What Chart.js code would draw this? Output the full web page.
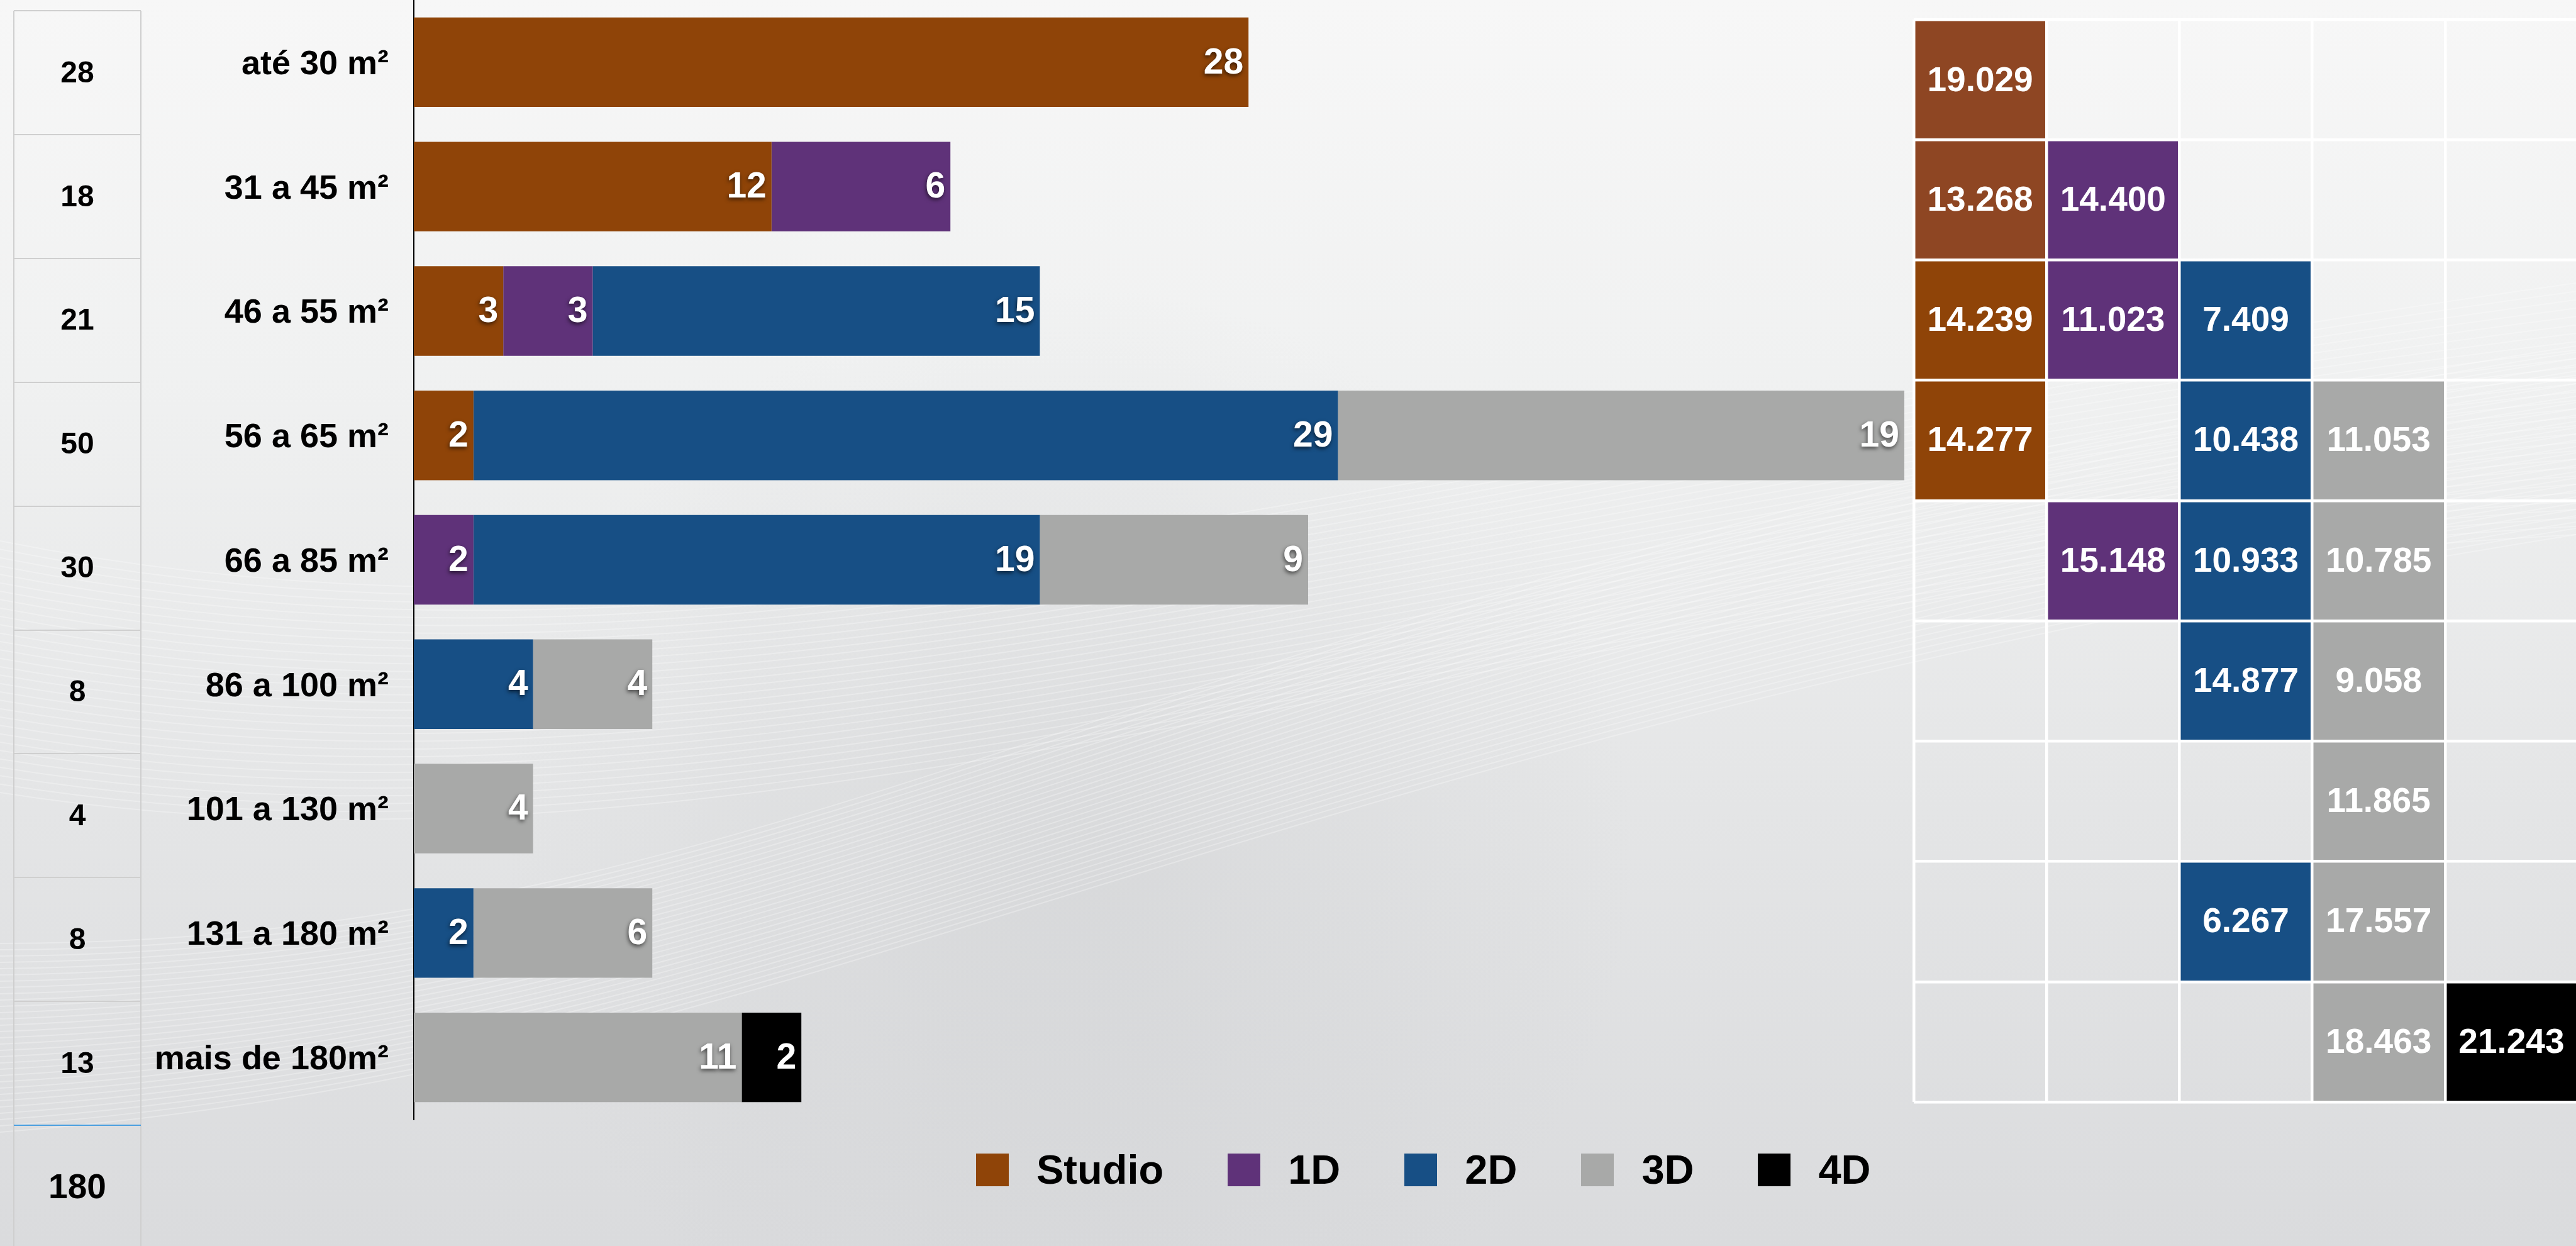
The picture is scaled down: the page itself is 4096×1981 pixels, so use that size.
<!DOCTYPE html>
<html lang="pt-BR">
<head>
<meta charset="utf-8">
<title>Unidades por metragem</title>
<script src="https://cdn.jsdelivr.net/npm/chart.js@4.4.1/dist/chart.umd.min.js"></script>
<style>
    html, body {
        margin: 0;
        padding: 0;
        width: 4096px;
        height: 1981px;
        overflow: hidden;
    }
    body {
        position: relative;
        font-family: "Liberation Sans", Arial, Helvetica, sans-serif;
    }
    canvas {
        position: absolute;
        top: 0;
    }
    #backdrop, #units, #totals { left: 0; }
    #prices { left: 3000px; }
    #legend {
        position: absolute;
        left: 1552px;
        top: 1834px;
        height: 52px;
        display: flex;
        align-items: center;
    }
    #legend .item {
        display: flex;
        align-items: center;
        margin-right: 102px;
    }
    #legend .swatch {
        width: 52px;
        height: 52px;
        margin-right: 44px;
    }
    #legend .name {
        font-weight: bold;
        font-size: 65px;
        line-height: 52px;
        color: #000;
    }
</style>
</head>
<body>
<canvas id="backdrop" width="4096" height="1981"></canvas>
<canvas id="totals" width="240" height="2000"></canvas>
<canvas id="units" width="4096" height="1981"></canvas>
<canvas id="prices" width="1110" height="1981"></canvas>
<div id="legend"></div>

<script>
const categories = ['até 30 m²', '31 a 45 m²', '46 a 55 m²', '56 a 65 m²', '66 a 85 m²',
    '86 a 100 m²', '101 a 130 m²', '131 a 180 m²', 'mais de 180m²'];
const typeNames = ['Studio', '1D', '2D', '3D', '4D'];
const typeColors = ['#8f4408', '#5f3279', '#174f85', '#a8a9a8', '#000000'];

// units per size range and type
const unitsStudio = [28, 12, 3, 2, 0, 0, 0, 0, 0];
const units1D = [0, 6, 3, 0, 2, 0, 0, 0, 0];
const units2D = [0, 0, 15, 29, 19, 4, 0, 2, 0];
const units3D = [0, 0, 0, 19, 9, 4, 4, 6, 11];
const units4D = [0, 0, 0, 0, 0, 0, 0, 0, 2];
const unitsMax = 50;

// price per m² by size range and type
const priceStudio = [19029, 13268, 14239, 14277, null, null, null, null, null];
const price1D = [null, 14400, 11023, null, 15148, null, null, null, null];
const price2D = [null, null, 7409, 10438, 10933, 14877, null, 6267, null];
const price3D = [null, null, null, 11053, 10785, 9058, 11865, 17557, 18463];
const price4D = [null, null, null, null, null, null, null, null, 21243];

const unitSeries = [unitsStudio, units1D, units2D, units3D, units4D];
const priceSeries = [priceStudio, price1D, price2D, price3D, price4D];

const rowTotals = categories.map((_, i) => unitSeries.reduce((sum, arr) => sum + arr[i], 0));
const grandTotal = rowTotals.reduce((a, b) => a + b, 0);

const FONT = '"Liberation Sans", Arial, sans-serif';
Chart.defaults.font.family = FONT;

function formatPrice(v) {
    return String(v).replace(/\B(?=(\d{3})+(?!\d))/g, '.');
}

// soft grey backdrop with a light wavy mesh
function paintBackdrop() {
    const cv = document.getElementById('backdrop');
    const ctx = cv.getContext('2d');
    const g = ctx.createLinearGradient(0, 0, 0, cv.height);
    g.addColorStop(0, '#f7f7f7');
    g.addColorStop(0.3, '#f0f1f1');
    g.addColorStop(0.65, '#e4e5e6');
    g.addColorStop(1, '#dadbdd');
    ctx.fillStyle = g;
    ctx.fillRect(0, 0, cv.width, cv.height);

    const shade = ctx.createRadialGradient(1700, 1350, 50, 1700, 1350, 900);
    shade.addColorStop(0, 'rgba(170,172,176,0.18)');
    shade.addColorStop(1, 'rgba(170,172,176,0)');
    ctx.fillStyle = shade;
    ctx.fillRect(0, 0, cv.width, cv.height);

    ctx.lineWidth = 2;
    ctx.strokeStyle = 'rgba(255,255,255,0.28)';
    for (let i = 0; i <= 30; i++) {
        const t = i / 30;
        ctx.beginPath();
        ctx.moveTo(0, 860 + 400 * t);
        ctx.bezierCurveTo(1200, 1100 + 350 * t, 2300, 700 + 250 * t, 4096, 450 + 400 * t);
        ctx.stroke();
    }
    for (let i = 0; i <= 30; i++) {
        const t = i / 30;
        ctx.beginPath();
        ctx.moveTo(0, 1500 + 300 * t);
        ctx.bezierCurveTo(1300, 1500 + 200 * t, 1900, 900 + 300 * t, 4096, 550 + 300 * t);
        ctx.stroke();
    }
}
paintBackdrop();

// values written at the end of every stacked segment
const segmentLabels = {
    id: 'segmentLabels',
    afterDatasetsDraw(chart) {
        const { ctx } = chart;
        ctx.save();
        ctx.font = `bold 57px ${FONT}`;
        ctx.fillStyle = '#fff';
        ctx.textAlign = 'right';
        ctx.textBaseline = 'middle';
        ctx.shadowColor = 'rgba(0,0,0,0.6)';
        ctx.shadowBlur = 6;
        ctx.shadowOffsetX = -1;
        ctx.shadowOffsetY = 3;
        chart.data.datasets.forEach((ds, i) => {
            chart.getDatasetMeta(i).data.forEach((bar, j) => {
                const v = ds.data[j];
                if (!v) return;
                ctx.fillText(String(v), bar.x - 8, bar.y + 2);
            });
        });
        ctx.restore();
    }
};

new Chart(document.getElementById('units'), {
    type: 'bar',
    data: {
        labels: categories,
        datasets: unitSeries.map((data, i) => ({
            label: typeNames[i],
            data,
            backgroundColor: typeColors[i],
            borderWidth: 0,
            barPercentage: 0.72,
            categoryPercentage: 1
        }))
    },
    options: {
        indexAxis: 'y',
        responsive: false,
        animation: false,
        layout: { padding: { left: 0, top: 0, right: 1068, bottom: 201 } },
        scales: {
            x: { stacked: true, min: 0, max: unitsMax, display: false },
            y: {
                stacked: true,
                grid: { display: false, drawTicks: false },
                border: { display: true, color: '#000', width: 2 },
                ticks: {
                    color: '#000',
                    font: { size: 54, weight: 'bold' },
                    padding: 40,
                    labelOffset: 4,
                    autoSkip: false
                },
                afterFit(scale) {
                    scale.width = 658;
                    scale.paddingTop = 0;
                    scale.paddingBottom = 0;
                }
            }
        },
        plugins: { legend: { display: false }, tooltip: { enabled: false } }
    },
    plugins: [segmentLabels]
});

// totals column on the left
const totalsText = {
    id: 'totalsText',
    afterDraw(chart) {
        const { ctx, chartArea, scales: { y } } = chart;
        const cx = (chartArea.left + chartArea.right) / 2;
        ctx.save();
        ctx.fillStyle = '#000';
        ctx.textAlign = 'center';
        ctx.textBaseline = 'middle';
        rowTotals.concat([grandTotal]).forEach((v, i) => {
            const last = i === rowTotals.length;
            ctx.font = `bold ${last ? 55 : 48}px ${FONT}`;
            ctx.fillText(String(v), cx, y.getPixelForValue(i) + 2);
        });
        ctx.restore();
    }
};

new Chart(document.getElementById('totals'), {
    type: 'bar',
    data: {
        labels: categories.concat(['Total']),
        datasets: [{ data: categories.concat(['Total']).map(() => null) }]
    },
    options: {
        indexAxis: 'y',
        responsive: false,
        animation: false,
        layout: { padding: { left: 22, top: 17, right: 16, bottom: 14 } },
        scales: {
            x: {
                min: 0,
                max: 1,
                ticks: { display: false, stepSize: 1 },
                grid: { color: '#cfcfcf', lineWidth: 2, drawTicks: false },
                border: { display: false },
                afterFit(scale) { scale.height = 0; scale.paddingLeft = 0; scale.paddingRight = 0; }
            },
            y: {
                offset: true,
                ticks: { display: false },
                grid: {
                    offset: true,
                    drawTicks: false,
                    lineWidth: 2,
                    color: (c) => c.index === rowTotals.length ? '#4a9fe0' : '#cfcfcf'
                },
                border: { display: false },
                afterFit(scale) { scale.width = 0; scale.paddingTop = 0; scale.paddingBottom = 0; }
            }
        },
        plugins: { legend: { display: false }, tooltip: { enabled: false } }
    },
    plugins: [totalsText]
});

// price grid on the right
const priceLabels = {
    id: 'priceLabels',
    afterDatasetsDraw(chart) {
        const { ctx } = chart;
        ctx.save();
        ctx.font = `bold 55px ${FONT}`;
        ctx.fillStyle = '#fff';
        ctx.textAlign = 'center';
        ctx.textBaseline = 'middle';
        chart.data.datasets.forEach((ds, r) => {
            chart.getDatasetMeta(r).data.forEach((cell, c) => {
                const v = priceSeries[c][r];
                if (v == null) return;
                ctx.fillText(formatPrice(v), cell.x, (cell.y + cell.base) / 2 + 2);
            });
        });
        ctx.restore();
    }
};

new Chart(document.getElementById('prices'), {
    type: 'bar',
    data: {
        labels: typeNames,
        datasets: categories.map((cat, r) => ({
            label: cat,
            data: priceSeries.map(col => col[r] == null ? null : [r, r + 1]),
            backgroundColor: typeNames.map((_, c) => (c === 0 && r < 2) ? '#8e4623' : typeColors[c]),
            grouped: false,
            barPercentage: 1,
            categoryPercentage: 1,
            borderWidth: 0
        }))
    },
    options: {
        responsive: false,
        animation: false,
        layout: { padding: { left: 43, top: 31, right: 11, bottom: 229 } },
        scales: {
            x: {
                offset: true,
                ticks: { display: false },
                grid: { offset: true, color: '#fff', lineWidth: 4.5, drawTicks: false, z: 1 },
                border: { display: false },
                afterFit(scale) { scale.height = 0; scale.paddingLeft = 0; scale.paddingRight = 0; }
            },
            y: {
                min: 0,
                max: categories.length,
                reverse: true,
                ticks: { display: false, stepSize: 1 },
                grid: { color: '#fff', lineWidth: 4.5, drawTicks: false, z: 1 },
                border: { display: false },
                afterFit(scale) { scale.width = 0; scale.paddingTop = 0; scale.paddingBottom = 0; }
            }
        },
        plugins: { legend: { display: false }, tooltip: { enabled: false } }
    },
    plugins: [priceLabels]
});

// legend
const legendEl = document.getElementById('legend');
typeNames.forEach((name, i) => {
    legendEl.insertAdjacentHTML('beforeend',
        `<div class="item"><span class="swatch" style="background:${typeColors[i]}"></span>` +
        `<span class="name">${name}</span></div>`);
});
</script>
</body>
</html>
